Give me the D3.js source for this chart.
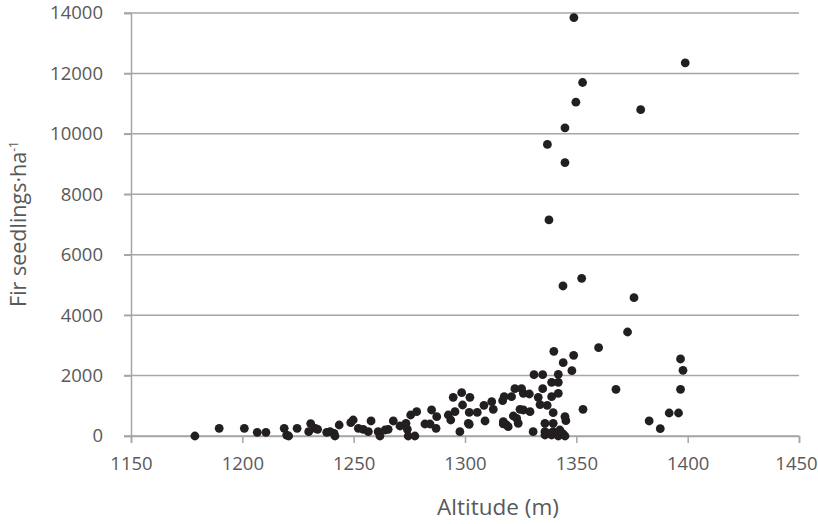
<!DOCTYPE html>
<meta charset="utf-8">
<script src="https://d3js.org/d3.v7.min.js"></script>
<style>
  body { margin: 0; background: #fff; }
  text { font-family: "Open Sans", "Noto Sans", sans-serif; fill: #595959; }
</style>
<div id="chart"></div>
<script>

// altitude (m) and fir seedlings per ha
var altitude = [
  1178.7, 1189.6, 1200.9, 1206.7, 1210.6, 1218.8, 1219.9, 1220.8, 1224.6, 1230.7,
  1229.8, 1232.8, 1233.8, 1237.9, 1239.4, 1241.6, 1241.2, 1243.5, 1248.7, 1249.8,
  1252.1, 1254.3, 1256.6, 1257.8, 1261.0, 1261.8, 1264.1, 1265.5, 1267.8, 1270.8,
  1273.5, 1274.1, 1274.5, 1277.5, 1275.6, 1278.3, 1282.0, 1284.3, 1285.0, 1287.3,
  1287.0, 1292.5, 1293.6, 1295.5, 1294.7, 1298.5, 1302.2, 1298.9, 1301.5, 1297.7,
  1301.9, 1305.5, 1301.9, 1308.5, 1312.0, 1312.7, 1309.0, 1316.9, 1317.6, 1320.9,
  1317.2, 1318.7, 1317.2, 1319.4, 1321.7, 1323.2, 1323.9, 1322.4, 1325.4, 1326.2,
  1328.9, 1324.7, 1326.2, 1329.2, 1330.6, 1331.0, 1334.9, 1332.9, 1334.9, 1333.7,
  1336.9, 1335.9, 1339.6, 1338.9, 1341.9, 1338.9, 1341.9, 1339.9, 1341.9, 1344.1,
  1348.0, 1348.8, 1339.6, 1344.9, 1345.3, 1335.9, 1339.6, 1342.6, 1344.1, 1335.9,
  1338.9, 1341.9, 1338.2, 1344.9, 1342.3,
  1344.0, 1352.4, 1348.9, 1398.9, 1352.8, 1349.8, 1378.9, 1344.9, 1337.0, 1344.9,
  1337.7, 1375.9, 1373.0, 1360.0, 1396.8, 1397.9, 1367.8, 1396.8, 1353.0, 1391.7,
  1395.9, 1382.7, 1387.7
];
var seedlings = [
  0, 255, 255, 122, 122, 255, 30, 0, 255, 410,
  142, 255, 222, 122, 142, 0, 89, 364, 440, 530,
  255, 222, 142, 497, 142, 0, 199, 222, 497, 331,
  420, 222, 0, 0, 695, 804, 397, 397, 861, 639,
  255, 695, 530, 804, 1281, 1433, 1281, 1026, 420, 142,
  780, 780, 387, 1016, 1135, 884, 497, 1168, 1301, 1301,
  473, 364, 400, 308, 662, 586, 420, 1566, 1566, 1413,
  1390, 884, 861, 804, 142, 2029, 2029, 1281, 1566, 1040,
  1016, 420, 420, 1777, 1777, 1301, 1413, 2804, 2042, 2426,
  2161, 2671, 771, 639, 506, 142, 142, 199, 66, 33,
  33, 0, 89, 0, 109,
  4965, 5220, 13850, 12350, 11700, 11050, 10800, 10200, 9650, 9050,
  7150, 4578, 3442, 2923, 2549, 2175, 1546, 1546, 884, 761,
  761, 497, 242
];
var xTicks = [1150, 1200, 1250, 1300, 1350, 1400, 1450];
var yTicks = [0, 2000, 4000, 6000, 8000, 10000, 12000, 14000];

var margin = {top: 13, right: 19, bottom: 88, left: 131},
    width = 818 - margin.left - margin.right,
    height = 524 - margin.top - margin.bottom;

var svg = d3.select("#chart")
  .append("svg")
    .attr("width", 818)
    .attr("height", 524)
  .append("g")
    .attr("transform", "translate(" + margin.left + "," + margin.top + ")");

var x = d3.scaleLinear().domain([1150, 1450]).range([0, width]);
var y = d3.scaleLinear().domain([0, 14000]).range([height, 0]);

// horizontal gridlines (with the small tick stub on the left)
svg.append("g")
  .selectAll("line")
  .data(yTicks)
  .enter()
  .append("line")
    .attr("x1", -7)
    .attr("x2", width)
    .attr("y1", function (d) { return y(d); })
    .attr("y2", function (d) { return y(d); })
    .attr("stroke", "#a6a6a6")
    .attr("stroke-width", 1.5);

// y axis
var yAxis = svg.append("g")
  .call(d3.axisLeft(y).tickValues(yTicks).tickSize(7).tickPadding(21).tickFormat(d3.format("d")));
yAxis.select(".domain").attr("stroke", "#a6a6a6").attr("stroke-width", 1.5);
yAxis.selectAll(".tick line").attr("stroke", "#a6a6a6").attr("stroke-width", 1.5);
yAxis.selectAll("text").style("font-size", "18.5px").style("fill", "#595959");

// x axis
var xAxis = svg.append("g")
  .attr("transform", "translate(0," + height + ")")
  .call(d3.axisBottom(x).tickValues(xTicks).tickSize(7).tickPadding(14).tickFormat(d3.format("d")));
xAxis.select(".domain").attr("stroke", "#a6a6a6").attr("stroke-width", 1.5);
xAxis.selectAll(".tick line").attr("stroke", "#a6a6a6").attr("stroke-width", 1.5);
xAxis.selectAll("text").style("font-size", "18.5px").style("fill", "#595959");
// last label sits against the right edge, pull it in a touch
xAxis.selectAll("text").filter(function (d) { return d === 1450; }).attr("dx", -3);

// axis titles
svg.append("text")
  .attr("x", 498 - margin.left)
  .attr("y", 515 - margin.top)
  .style("text-anchor", "middle")
  .style("font-size", "22.5px")
  .text("Altitude (m)");

var yTitle = svg.append("text")
  .attr("transform", "translate(" + (26 - margin.left) + "," + (224 - margin.top) + ") rotate(-90)")
  .style("text-anchor", "middle")
  .style("font-size", "21.5px");
yTitle.append("tspan").text("Fir seedlings·ha");
yTitle.append("tspan").attr("dy", -8).style("font-size", "12px").text("-1");

// dots
svg.append("g")
  .selectAll("circle")
  .data(altitude)
  .enter()
  .append("circle")
    .attr("cx", function (d) { return x(d); })
    .attr("cy", function (d, i) { return y(seedlings[i]); })
    .attr("r", 4.4)
    .style("fill", "#231f20");

</script>
